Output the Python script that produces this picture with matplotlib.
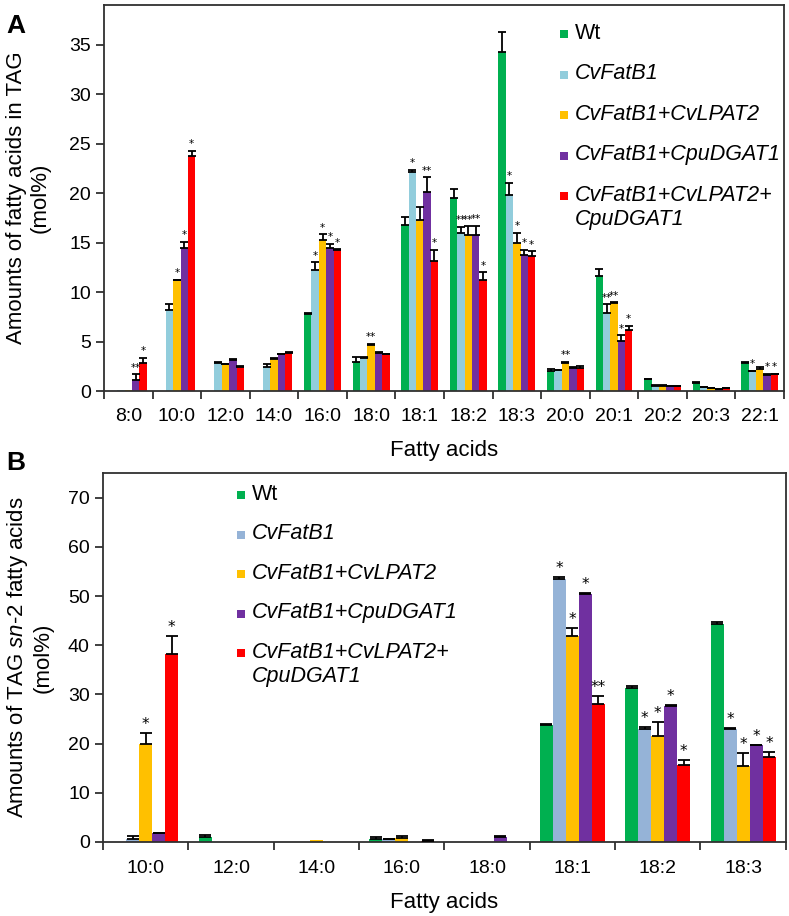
import numpy as np
import matplotlib
matplotlib.use("Agg")
import matplotlib.pyplot as plt
from matplotlib.patches import Rectangle

plt.rcParams['font.family'] = ['Liberation Sans', 'DejaVu Sans']
plt.rcParams['mathtext.fontset'] = 'custom'
plt.rcParams['mathtext.rm'] = 'Liberation Sans'
plt.rcParams['mathtext.it'] = 'Liberation Sans:italic'

# ---- panel A: fatty acids in TAG ----
cats_a = ['8:0', '10:0', '12:0', '14:0', '16:0', '18:0', '18:1', '18:2',
          '18:3', '20:0', '20:1', '20:2', '20:3', '22:1']
wt_a = [0.05, 0, 0, 0.05, 7.8, 2.9, 16.8, 19.5, 34.3, 2.0, 11.6, 1.2, 0.85, 2.8]
wt_err_a = [0, 0, 0, 0, 0.05, 0.55, 0.8, 0.95, 2.0, 0.25, 0.75, 0.05, 0.05, 0.1]
fatb_a = [0.1, 8.2, 2.8, 2.4, 12.2, 3.3, 22.1, 16.0, 19.8, 2.1, 7.9, 0.55, 0.4, 2.0]
fatb_err_a = [0, 0.6, 0.1, 0.3, 0.8, 0.15, 0.25, 0.6, 1.25, 0.05, 0.85, 0.05, 0.05, 0.05]
lpat_a = [0.15, 11.2, 2.7, 3.2, 15.25, 4.7, 17.3, 15.8, 15.0, 2.8, 8.85, 0.55, 0.3, 2.25]
lpat_err_a = [0, 0.05, 0.05, 0.1, 0.6, 0.1, 1.3, 0.85, 1.0, 0.15, 0.1, 0.05, 0.05, 0.15]
dgat_a = [1.1, 14.45, 3.1, 3.7, 14.45, 3.85, 20.15, 15.8, 13.75, 2.35, 5.05, 0.5, 0.17, 1.6]
dgat_err_a = [0.6, 0.65, 0.1, 0.05, 0.45, 0.05, 1.45, 0.9, 0.55, 0.05, 0.6, 0.05, 0.05, 0.15]
red_a = [2.8, 23.75, 2.45, 3.85, 14.25, 3.7, 13.1, 11.25, 13.6, 2.35, 6.15, 0.5, 0.27, 1.7]
red_err_a = [0.55, 0.55, 0.05, 0.05, 0.1, 0.05, 1.2, 0.75, 0.55, 0.2, 0.45, 0.05, 0.05, 0.05]

stars_wt_a = [''] * 14
stars_fatb_a = ['', '', '', '', '*', '', '*', '**', '*', '', '**', '', '', '*']
stars_lpat_a = ['', '*', '', '', '*', '**', '', '**', '*', '**', '**', '', '', '']
stars_dgat_a = ['**', '*', '', '', '*', '', '**', '**', '*', '', '*', '', '', '*']
stars_red_a = ['*', '*', '', '', '*', '', '*', '*', '*', '', '*', '', '', '*']

# ---- panel B: sn-2 fatty acids ----
cats_b = ['10:0', '12:0', '14:0', '16:0', '18:0', '18:1', '18:2', '18:3']
wt_b = [0, 1.0, 0, 0.6, 0, 23.7, 31.4, 44.3]
wt_err_b = [0, 0.5, 0, 0.4, 0, 0.35, 0.35, 0.35]
fatb_b = [0.7, 0, 0, 0.6, 0, 53.4, 22.9, 22.9]
fatb_err_b = [0.5, 0, 0, 0.05, 0, 0.5, 0.4, 0.2]
lpat_b = [19.9, 0, 0.4, 0.9, 0, 41.9, 21.5, 15.5]
lpat_err_b = [2.3, 0, 0, 0.3, 0, 1.5, 2.9, 2.6]
dgat_b = [1.8, 0, 0, 0, 1.0, 50.5, 27.7, 19.7]
dgat_err_b = [0.1, 0, 0, 0, 0.2, 0.1, 0.1, 0.1]
red_b = [38.3, 0, 0, 0.3, 0, 28.0, 15.7, 17.3]
red_err_b = [3.6, 0, 0, 0.05, 0, 1.6, 0.9, 1.0]

stars_wt_b = [''] * 8
stars_fatb_b = ['', '', '', '', '', '*', '*', '*']
stars_lpat_b = ['*', '', '', '', '', '*', '*', '*']
stars_dgat_b = ['', '', '', '', '', '*', '*', '*']
stars_red_b = ['*', '', '', '', '', '**', '*', '*']

labels = ['Wt', 'CvFatB1', 'CvFatB1+CvLPAT2', 'CvFatB1+CpuDGAT1',
          'CvFatB1+CvLPAT2+\nCpuDGAT1']
colors_a = ['#00B050', '#92CDDC', '#FFC000', '#7030A0', '#FF0000']
colors_b = ['#00B050', '#95B3D7', '#FFC000', '#7030A0', '#FF0000']
spine_col = '#303030'


def draw_panel(ax, cats, series, errs, stars, colors, ymax, yticks,
               capsize, star_size, star_pad, tick_pad, label_pad):
    x = np.arange(len(cats))
    w = 0.152
    for i, (vals, err, st) in enumerate(zip(series, errs, stars)):
        pos = x + (i - 2) * w
        ax.bar(pos, vals, width=w, color=colors[i], edgecolor='none', zorder=2)
        vals = np.array(vals, dtype=float)
        err = np.array(err, dtype=float)
        m = err > 0
        ax.errorbar(pos[m], vals[m], yerr=[np.zeros(m.sum()), err[m]],
                    fmt='none', ecolor='black', elinewidth=1.3,
                    capsize=capsize, capthick=1.3, zorder=3)
        for p, v, e, s in zip(pos, vals, err, st):
            if s:
                ax.text(p, v + e + star_pad, s, ha='center', va='bottom',
                        fontsize=star_size, family='DejaVu Sans')
    ax.set_xlim(-0.5, len(cats) - 0.5)
    ax.set_ylim(0, ymax)
    ax.set_yticks(yticks)
    ax.set_xticks(x)
    ax.set_xticklabels(cats, fontsize=14)
    ax.set_xticks(np.arange(len(cats) + 1) - 0.5, minor=True)
    ax.tick_params(axis='x', which='major', length=0, pad=tick_pad)
    ax.tick_params(axis='x', which='minor', length=6, width=1.3,
                   color=spine_col, direction='out')
    ax.tick_params(axis='y', labelsize=14, length=6, width=1.3,
                   color=spine_col, direction='out')
    for sp in ax.spines.values():
        sp.set_color(spine_col)
        sp.set_linewidth(1.3)
    ax.set_xlabel('Fatty acids', fontsize=16, labelpad=label_pad)


def draw_legend(ax, colors, x0, y0, step):
    # square swatches plus labels, placed in axes fraction
    bb = ax.get_window_extent()
    sw = 8.0 / bb.width
    sh = 8.0 / bb.height
    dy = step / bb.height
    for i, (c, lab) in enumerate(zip(colors, labels)):
        yc = y0 - i * dy
        ax.add_patch(Rectangle((x0, yc - sh / 2), sw, sh, transform=ax.transAxes,
                               facecolor=c, edgecolor='none', clip_on=False))
        ax.text(x0 + sw + 7.0 / bb.width, yc + 11.5 / bb.height, lab,
                transform=ax.transAxes, fontsize=15.5, va='top', ha='left',
                style='normal' if i == 0 else 'italic', linespacing=1.2)


fig = plt.figure(figsize=(7.89, 9.16), dpi=100)
ax_a = fig.add_axes([0.1318, 0.5731, 0.8619, 0.4214])
ax_b = fig.add_axes([0.1305, 0.0808, 0.8655, 0.4028])

draw_panel(ax_a, cats_a,
           [wt_a, fatb_a, lpat_a, dgat_a, red_a],
           [wt_err_a, fatb_err_a, lpat_err_a, dgat_err_a, red_err_a],
           [stars_wt_a, stars_fatb_a, stars_lpat_a, stars_dgat_a, stars_red_a],
           colors_a, 39, np.arange(0, 36, 5), 2.6, 7.5, 0.15, 12, 11)
ax_a.set_ylabel('Amounts of fatty acids in TAG\n(mol%)', fontsize=16,
                labelpad=13)

draw_panel(ax_b, cats_b,
           [wt_b, fatb_b, lpat_b, dgat_b, red_b],
           [wt_err_b, fatb_err_b, lpat_err_b, dgat_err_b, red_err_b],
           [stars_wt_b, stars_fatb_b, stars_lpat_b, stars_dgat_b, stars_red_b],
           colors_b, 75, np.arange(0, 71, 10), 4.5, 11, 0.2, 13, 11)
ax_b.set_ylabel('Amounts of TAG $\\mathit{sn}$-2 fatty acids\n(mol%)', fontsize=16,
                labelpad=10)

draw_legend(ax_a, colors_a, (560 - 104) / 680.0, (391 - 34) / 386.0, 40.6)
draw_legend(ax_b, colors_b, (237 - 103) / 683.0, (842 - 495) / 369.0, 39.5)

fig.text(0.008, 0.985, 'A', fontsize=19, fontweight='bold', va='top')
fig.text(0.008, 0.508, 'B', fontsize=19, fontweight='bold', va='top')

fig.savefig('out.png', dpi=100)
